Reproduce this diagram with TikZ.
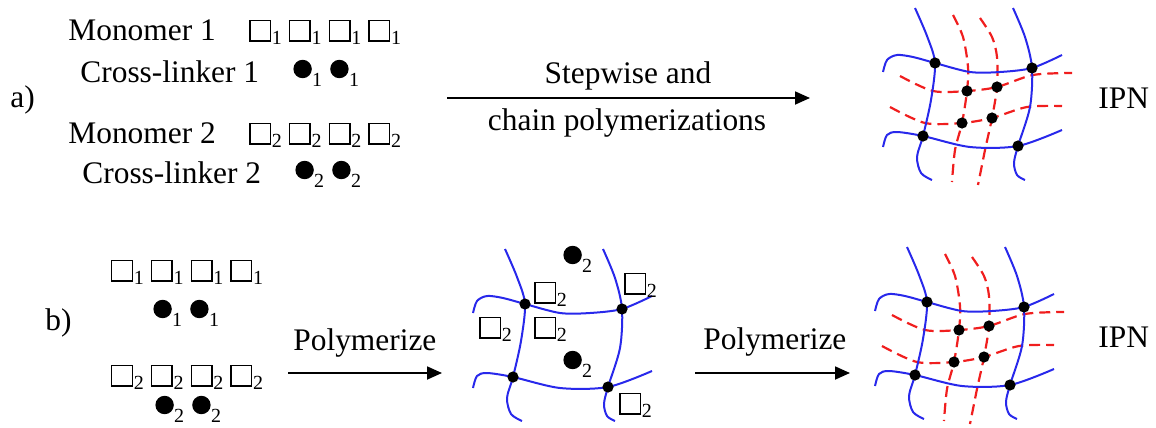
\documentclass[tikz,border=0pt]{standalone}
\usepackage{fontspec}
\setmainfont{Liberation Serif}
\usetikzlibrary{arrows.meta}

% inline symbols: open square (monomer) and filled disc (cross-linker)
\newcommand\msq{{\fboxsep=0pt\fboxrule=0.75pt\fbox{\rule{0pt}{9.5pt}\rule{9.5pt}{0pt}}}}
\newcommand\subs[1]{\raisebox{-2.4pt}{\fontsize{10}{10}\selectfont #1}}
\newcommand\mono[1]{\kern0.3pt\msq\kern0.4pt\subs{#1}\kern3.2pt}
\newcommand\xl[1]{\tikz[baseline=0pt]\fill (4.6pt,6.5pt) circle[radius=4.6pt];\kern0.2pt\subs{#1}\kern4pt}

% first network (solid blue strands)
\newcommand\bluenet{%
  \draw[bl] plot[smooth] coordinates {(915,8) (927,36) (935,63) (931,100) (923,136) (917,157) (921,173) (932,180)};
  \draw[bl] plot[smooth] coordinates {(1013,8) (1025,37) (1032,68) (1030,107) (1018,146) (1014,163) (1017,175) (1025,180)};
  \draw[bl] plot[smooth] coordinates {(883,72) (887,60) (897,55) (913,57) (935,63) (970,72) (1000,72) (1032,68) (1062,55)};
  \draw[bl] plot[smooth] coordinates {(883,147) (887,135) (897,132) (923,136) (970,147) (1018,146) (1062,130)};
  \node[jdot] (j1) at (935,63) {};
  \node[jdot] (j2) at (1032,68) {};
  \node[jdot] (j3) at (923,136) {};
  \node[jdot] (j4) at (1018,146) {};
}
% second network (dashed red strands)
\newcommand\rednet{%
  \draw[rd] plot[smooth] coordinates {(953,15) (963,37) (968,67) (967,91) (962,123) (955,150) (952,182)};
  \draw[rd] plot[smooth] coordinates {(980,18) (992,37) (997,57) (997,87) (992,118) (985,150) (978,185)};
  \draw[rd] plot[smooth] coordinates {(900,76) (933,91) (967,91) (997,87) (1033,75) (1072,73)};
  \draw[rd] plot[smooth] coordinates {(890,107) (925,123) (962,123) (992,118) (1027,107) (1062,106)};
  \node[jdot] (r1) at (967,91) {};
  \node[jdot] (r2) at (997,87) {};
  \node[jdot] (r3) at (962,123) {};
  \node[jdot] (r4) at (992,118) {};
}

\begin{document}
\begin{tikzpicture}[x=0.5pt,y=-0.5pt,
  lbl/.style={inner sep=0pt, anchor=base west, font=\rmfamily\fontsize{15.7}{18}\selectfont},
  clbl/.style={lbl, anchor=base},
  bl/.style={draw={rgb,255:red,40;green,40;blue,235}, line width=1pt},
  rd/.style={draw={rgb,255:red,240;green,30;blue,30}, line width=1.1pt, dash pattern=on 5.5pt off 3pt},
  jdot/.style={circle, fill=black, inner sep=0pt, minimum size=5.6pt},
  rxn/.style={draw=black, line width=0.9pt, -{Triangle[length=7.5pt,width=6.5pt]}}]
\useasboundingbox (0,0) rectangle (1156,428);

% ---------- a) ----------
\node[lbl] (la) at (10,107) {a)};
\node[lbl] (m1) at (68,40) {Monomer 1};
\node[lbl] (m1s) at (248,40) {\mono1\mono1\mono1\mono1};
\node[lbl] (c1) at (80,82) {Cross-linker 1};
\node[lbl] (c1s) at (293,82) {\xl1\xl1};
\node[lbl] (m2) at (68,143) {Monomer 2};
\node[lbl] (m2s) at (248,143) {\mono2\mono2\mono2\mono2};
\node[lbl] (c2) at (82,183) {Cross-linker 2};
\node[lbl] (c2s) at (295,183) {\xl2\xl2};

\coordinate (a1s) at (447,98);
\coordinate (a1e) at (810,98);
\draw[rxn] (a1s) -- (a1e);
\node[clbl] (t1) at (628,83) {Stepwise and};
\node[clbl] (t2) at (627,130) {chain polymerizations};

\begin{scope}[name prefix=ipa-]
  \rednet
  \bluenet
\end{scope}
\node[lbl] (ipna) at (1098,108) {IPN};

% ---------- b) ----------
\node[lbl] (lb) at (45,330) {b)};
\node[lbl] (b1) at (110,280) {\mono1\mono1\mono1\mono1};
\node[lbl] (b2) at (153,322) {\xl1\xl1};
\node[lbl] (b3) at (110,385) {\mono2\mono2\mono2\mono2};
\node[lbl] (b4) at (155,418) {\xl2\xl2};

\coordinate (b1s) at (288,373);
\coordinate (b1e) at (442,373);
\draw[rxn] (b1s) -- (b1e);
\node[lbl] (p1) at (293,350) {Polymerize};

\begin{scope}[shift={(-410,241)}, name prefix=mid-]
  \bluenet
\end{scope}
\node[lbl] (x1) at (563,268) {\xl2};
\node[lbl] (s1) at (533,302) {\mono2};
\node[lbl] (s2) at (623,293) {\mono2};
\node[lbl] (s3) at (478,337) {\mono2};
\node[lbl] (s4) at (533,337) {\mono2};
\node[lbl] (x2) at (563,373) {\xl2};
\node[lbl] (s5) at (618,413) {\mono2};

\coordinate (b2s) at (695,373);
\coordinate (b2e) at (850,373);
\draw[rxn] (b2s) -- (b2e);
\node[lbl] (p2) at (703,349) {Polymerize};

\begin{scope}[shift={(-8,239)}, name prefix=ipb-]
  \rednet
  \bluenet
\end{scope}
\node[lbl] (ipnb) at (1098,347) {IPN};
\end{tikzpicture}
\end{document}
